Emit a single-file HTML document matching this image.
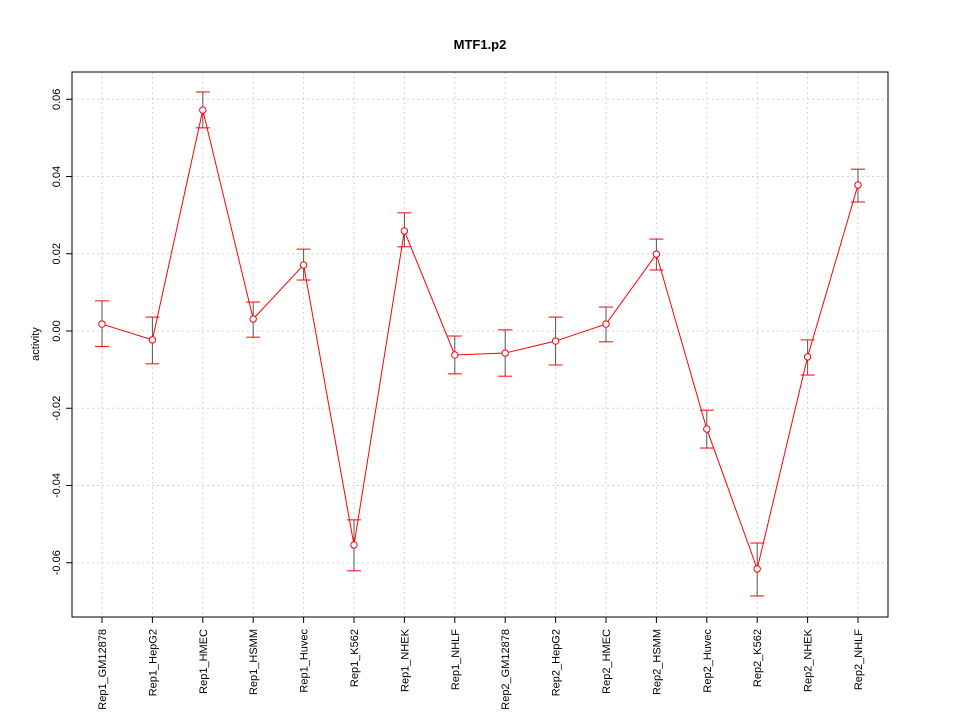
<!DOCTYPE html>
<html><head><meta charset="utf-8"><style>
html,body{margin:0;padding:0;background:#fff;}
svg{display:block;font-family:"Liberation Sans",sans-serif;}
</style></head><body>
<svg id="chart" width="960" height="720"></svg>
<script>
const categories=["Rep1_GM12878","Rep1_HepG2","Rep1_HMEC","Rep1_HSMM","Rep1_Huvec","Rep1_K562","Rep1_NHEK","Rep1_NHLF","Rep2_GM12878","Rep2_HepG2","Rep2_HMEC","Rep2_HSMM","Rep2_Huvec","Rep2_K562","Rep2_NHEK","Rep2_NHLF"];
const values=[0.0018,-0.0023,0.0572,0.0031,0.0171,-0.0554,0.0259,-0.0062,-0.0057,-0.0026,0.0018,0.0199,-0.0254,-0.0616,-0.0067,0.0378];
const upper=[0.0078,0.0036,0.0619,0.0075,0.0212,-0.0489,0.0306,-0.0013,0.0003,0.0036,0.0062,0.0238,-0.0205,-0.0549,-0.0023,0.0419];
const lower=[-0.0040,-0.0085,0.0526,-0.0016,0.0132,-0.0621,0.0218,-0.0111,-0.0117,-0.0088,-0.0028,0.0158,-0.0303,-0.0686,-0.0114,0.0334];
const yTicks=[-0.06,-0.04,-0.02,0.00,0.02,0.04,0.06];
const yTickLabels=["-0.06","-0.04","-0.02","0.00","0.02","0.04","0.06"];

const svg=document.getElementById('chart');
const NS="http://www.w3.org/2000/svg";
function mk(tag,attrs,parent){const e=document.createElementNS(NS,tag);for(const k in attrs)e.setAttribute(k,attrs[k]);(parent||svg).appendChild(e);return e;}
const L=72,R=888,T=72,B=617;
const y=v=>331-v*3862;
const x=i=>102+i*50.4;

const t=mk('text',{x:480,y:49,'text-anchor':'middle','font-size':13,'font-weight':'bold',fill:'#000'});
t.textContent="MTF1.p2";



// grid
for(let i=0;i<categories.length;i++){
  const g=mk('line',{x1:x(i),x2:x(i),y1:T,y2:B,stroke:'#d3d3d3','stroke-dasharray':'2,3'});
  
  
}
for(let j=0;j<yTicks.length;j++){
  const g=mk('line',{x1:L,x2:R,y1:y(yTicks[j]),y2:y(yTicks[j]),stroke:'#d3d3d3','stroke-dasharray':'2,3'});
  
  
}
const box=mk('rect',{x:L,y:T,width:R-L,height:B-T,fill:'none',stroke:'#000'});



// y axis
for(let j=0;j<yTicks.length;j++){
  const yy=y(yTicks[j]);
  const tk=mk('line',{x1:L-6,x2:L,y1:yy,y2:yy,stroke:'#000'});
  
  
  const lb=mk('text',{x:L-12,y:yy,'text-anchor':'middle','font-size':11,transform:`rotate(-90 ${L-12} ${yy})`});
  lb.textContent=yTickLabels[j];
  
  
}
const yt=mk('text',{x:39,y:344,'text-anchor':'middle','font-size':11,transform:'rotate(-90 39 344)'});
yt.textContent="activity";



// x axis
for(let i=0;i<categories.length;i++){
  const tk=mk('line',{x1:x(i),x2:x(i),y1:B,y2:B+6,stroke:'#000'});
  
  
  const lx=x(i)+4,ly=B+12;
  const lb=mk('text',{x:lx,y:ly,'text-anchor':'end','font-size':11,transform:`rotate(-90 ${lx} ${ly})`});
  lb.textContent=categories[i];
  
  
}

// error bars
for(let i=0;i<categories.length;i++){
  const xi=x(i);
  const v=mk('line',{x1:xi,x2:xi,y1:y(upper[i]),y2:y(lower[i]),stroke:'#555'});
  
  
  const c1=mk('line',{x1:xi-7,x2:xi+7,y1:y(upper[i]),y2:y(upper[i]),stroke:'#ff0000'});
  
  
  const c2=mk('line',{x1:xi-7,x2:xi+7,y1:y(lower[i]),y2:y(lower[i]),stroke:'#ff0000'});
  
  
}
// line
const pts=values.map((v,i)=>x(i)+','+y(v)).join(' ');
const pl=mk('polyline',{points:pts,fill:'none',stroke:'#ff0000'});


for(let i=0;i<values.length;i++){
  const c=mk('circle',{cx:x(i),cy:y(values[i]),r:3.2,fill:'#fff',stroke:'#ff0000'});
  
  
}
</script>
</body></html>
